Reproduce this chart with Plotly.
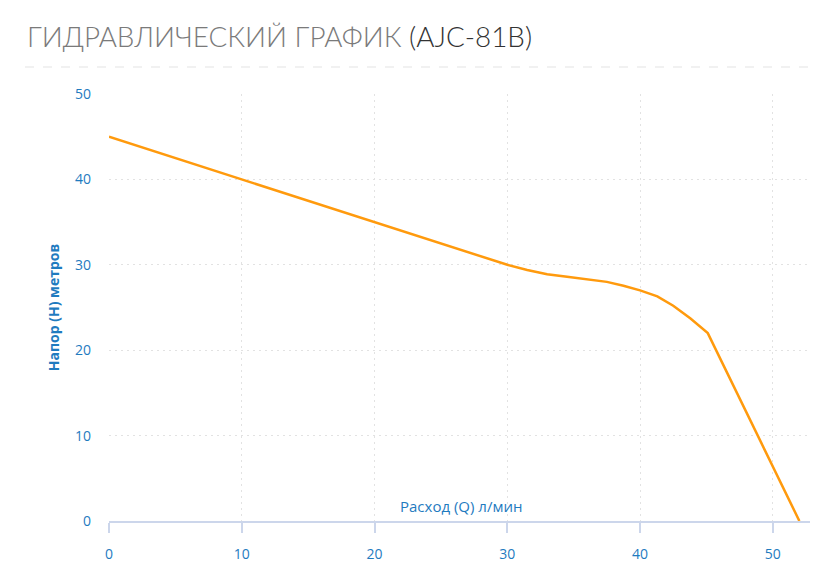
import plotly.graph_objects as go

flow_q = [0, 30, 31.5, 33, 34.5, 36, 37.5, 38.75, 40, 41.3, 42.5, 43.8, 45.1, 52]
head_h = [45, 30, 29.4, 28.9, 28.6, 28.3, 28.0, 27.55, 27.0, 26.3, 25.2, 23.7, 22.0, 0]
x_ticks = [0, 10, 20, 30, 40, 50]
y_ticks = [0, 10, 20, 30, 40, 50]

blue = "#1f7bbf"
fig = go.Figure()
fig.add_trace(go.Scatter(x=flow_q, y=head_h, mode="lines",
                         line=dict(color="#ff9a0d", width=2.5), hoverinfo="skip",
                         showlegend=False))

# page body has an 8px margin, so the figure is drawn 8px smaller and shifted
fig.update_layout(
    width=813, height=569,
    margin=dict(l=101, r=11, t=86, b=56, autoexpand=False),
    paper_bgcolor="white", plot_bgcolor="white",
    font=dict(family="Open Sans", color=blue, size=14),
    xaxis=dict(range=[0, 52.8], tickvals=x_ticks, showgrid=True, automargin=False,
               gridcolor="#e2e2e2", griddash="2px,4px", gridwidth=1,
               showline=True, linecolor="#ccd6eb", linewidth=1.5,
               ticks="outside", ticklen=10, tickcolor="#ccd6eb", tickwidth=1.5,
               ticklabelstandoff=9,
               tickfont=dict(color=blue, size=14), zeroline=False, fixedrange=True),
    yaxis=dict(range=[0, 50], tickvals=y_ticks, showgrid=True, automargin=False,
               gridcolor="#e2e2e2", griddash="2px,4px", gridwidth=1,
               showline=False, zeroline=False, ticks="", ticklabelstandoff=17,
               tickfont=dict(color=blue, size=14),
               title=dict(text="<b>Напор (H) метров</b>", standoff=12,
                          font=dict(color=blue, size=14, family="Open Sans")),
               fixedrange=True),
    showlegend=False,
)

fig.add_annotation(text="<span style='color:#7a7a7a'>ГИДРАВЛИЧЕСКИЙ ГРАФИК</span> <span style='color:#333333'>(AJC-81B)</span>",
                   xref="paper", yref="paper", x=(25 - 109) / 701, y=1 + (94 - 36) / 427,
                   xanchor="left", yanchor="middle", showarrow=False,
                   font=dict(family="Lato", size=27.8, weight=300))
fig.add_shape(type="line", xref="paper", yref="paper",
              x0=(25 - 109) / 701, x1=1 + 11 / 701, y0=1 + (94 - 67) / 427, y1=1 + (94 - 67) / 427,
              line=dict(color="#e3e3e3", width=1, dash="dash"))
fig.add_annotation(text="Расход (Q) л/мин", xref="x", yref="paper",
                   x=26.5, y=15 / 427, xanchor="center", yanchor="middle",
                   showarrow=False, font=dict(family="Open Sans", size=15, color=blue))

fig.write_html("out.html")
